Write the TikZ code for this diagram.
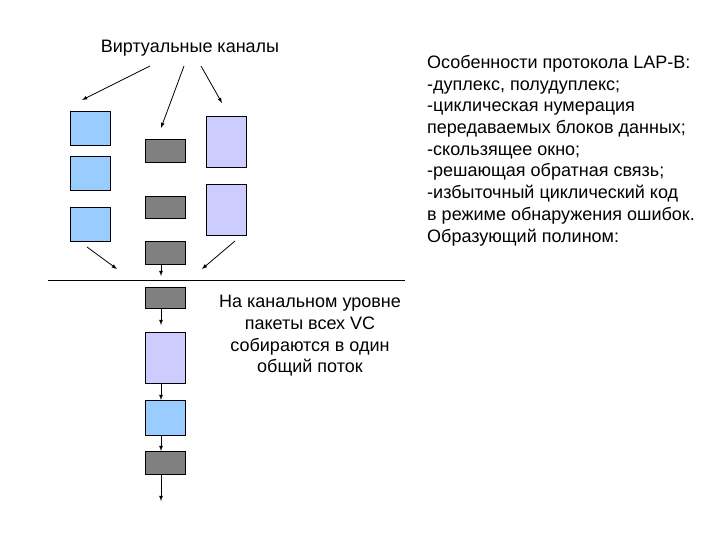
\documentclass[tikz,border=0pt]{standalone}
\usepackage{fontspec}
\setmainfont{Liberation Sans}
\begin{document}
\begin{tikzpicture}[x=1pt,y=-1pt,
  bl/.style={draw=black,fill={rgb,255:red,153;green,204;blue,255}},
  gr/.style={draw=black,fill={rgb,255:red,128;green,128;blue,128}},
  lv/.style={draw=black,fill={rgb,255:red,204;green,204;blue,255}},
  ar/.style={-latex,line width=0.8pt},
  txt/.style={font=\fontsize{18}{21.7}\selectfont}]
\useasboundingbox (0,0) rectangle (720,540);
\node[txt] (title) at (190,48) {Виртуальные каналы};
\draw[bl] (70,111) rectangle (110,145);
\draw[bl] (70,156) rectangle (110,190);
\draw[bl] (70,207) rectangle (110,241);
\draw[gr] (145,139) rectangle (185,162);
\draw[gr] (145,196) rectangle (185,218);
\draw[gr] (145,241) rectangle (185,264);
\draw[lv] (206,116) rectangle (246,167);
\draw[lv] (206,184) rectangle (246,235);
\coordinate (t1) at (150,66); \coordinate (h1) at (82,100);
\coordinate (t2) at (184,66); \coordinate (h2) at (161,128);
\coordinate (t3) at (201,66); \coordinate (h3) at (222,103);
\draw[ar] (t1) -- (h1); \draw[ar] (t2) -- (h2); \draw[ar] (t3) -- (h3);
\coordinate (l1) at (87,247); \coordinate (l1h) at (117,269);
\coordinate (l2) at (161,264); \coordinate (l2h) at (161,276);
\coordinate (l3) at (235,241); \coordinate (l3h) at (202,269);
\draw[ar] (l1) -- (l1h); \draw[ar] (l2) -- (l2h); \draw[ar] (l3) -- (l3h);
\coordinate (la) at (48,280); \coordinate (lb) at (405,280);
\draw[line width=0.8pt] (la) -- (lb);
\node[gr,minimum width=40pt,minimum height=21pt,inner sep=0] (g4) at (165,297.5) {};
\node[lv,minimum width=40pt,minimum height=51pt,inner sep=0] (v3) at (165,357.5) {};
\node[bl,minimum width=40pt,minimum height=35pt,inner sep=0] (b4) at (165,417.5) {};
\node[gr,minimum width=40pt,minimum height=23pt,inner sep=0] (g5) at (165,462.5) {};
\coordinate (end) at (161,501);
\draw[ar] (161,308) -- (161,325);
\draw[ar] (161,383) -- (161,400);
\draw[ar] (161,435) -- (161,451);
\draw[ar] (161,474) -- (end);
\node[txt,align=center] (mid) at (310,336) {На канальном уровне\\пакеты всех VC\\собираются в один\\общий поток};
\node[txt,align=left,anchor=north west,inner sep=0] (right) at (427,55) {Особенности протокола LAP-B:\\-дуплекс, полудуплекс;\\-циклическая нумерация\\передаваемых блоков данных;\\-скользящее окно;\\-решающая обратная связь;\\-избыточный циклический код\\в режиме обнаружения ошибок.\\Образующий полином:};
\end{tikzpicture}
\end{document}
